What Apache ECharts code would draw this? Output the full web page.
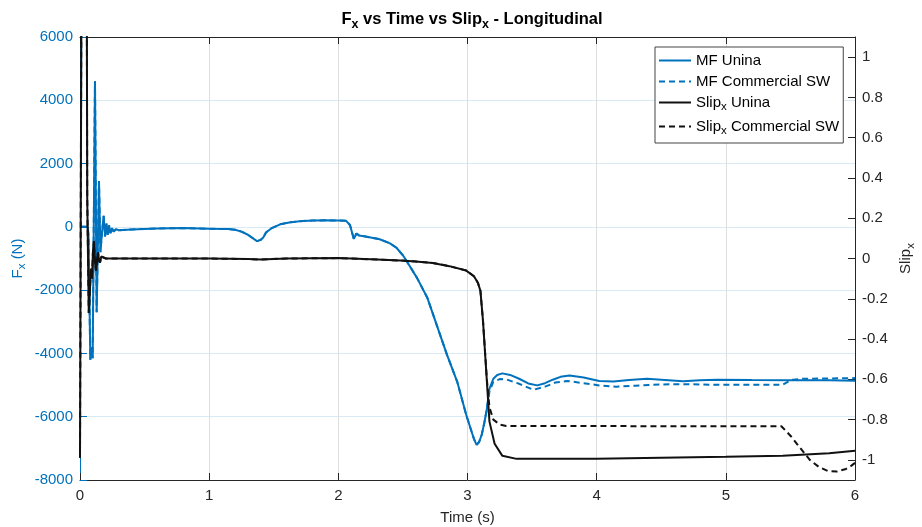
<!DOCTYPE html>
<html>
<head>
<meta charset="utf-8">
<script src="https://cdn.jsdelivr.net/npm/echarts@6/dist/echarts.min.js"></script>
<style>html,body{margin:0;padding:0;background:#fff}#c{width:922px;height:527px}</style>
</head>
<body>
<div id="c"></div>
<script>
// ---- Data ----
const xTicks = [0, 1, 2, 3, 4, 5, 6];
const slipTicks = [-1, -0.8, -0.6, -0.4, -0.2, 0, 0.2, 0.4, 0.6, 0.8, 1];

// Fx (N): part shared by both models (t <= 3.15 s)
const fxCommonTime = [0, 0.06, 0.066, 0.08, 0.088, 0.098, 0.116, 0.129, 0.147, 0.158, 0.17, 0.183, 0.194, 0.205, 0.215, 0.225, 0.235, 0.248, 0.26, 0.28, 0.3, 0.4, 0.6, 0.8, 1.0, 1.15, 1.2, 1.25, 1.3, 1.37, 1.4, 1.42, 1.44, 1.48, 1.55, 1.62, 1.7, 1.8, 1.9, 2.0, 2.06, 2.09, 2.12, 2.14, 2.16, 2.2, 2.32, 2.4, 2.45, 2.5, 2.55, 2.61, 2.69, 2.76, 2.84, 2.92, 2.99, 3.03, 3.05, 3.07, 3.09, 3.11, 3.13, 3.15];
const fxCommonVals = [0, 0, -300, -4200, -3800, -4150, 4600, -2700, 1450, -800, -200, 350, -300, 100, -250, 50, -200, -40, -150, -70, -110, -80, -50, -40, -60, -70, -90, -150, -250, -450, -410, -330, -180, -50, 80, 140, 180, 200, 205, 200, 190, 60, -380, -210, -270, -300, -390, -520, -660, -900, -1220, -1620, -2250, -3080, -4030, -4890, -5940, -6450, -6700, -6890, -6800, -6570, -6200, -5750];
// Fx MF Unina tail
const fxUninaTime = [3.17, 3.2, 3.23, 3.27, 3.33, 3.4, 3.47, 3.54, 3.6, 3.66, 3.72, 3.79, 3.9, 4.02, 4.13, 4.25, 4.39, 4.5, 4.67, 4.8, 4.93, 5.2, 5.5, 5.8, 6.0];
const fxUninaVals = [-5110, -4800, -4680, -4630, -4680, -4800, -4950, -5010, -4940, -4830, -4740, -4700, -4760, -4870, -4890, -4840, -4800, -4830, -4880, -4850, -4830, -4840, -4850, -4850, -4860];
// Fx MF Commercial SW tail
const fxSwTime = [3.17, 3.2, 3.25, 3.3, 3.4, 3.51, 3.6, 3.68, 3.77, 3.9, 4.02, 4.15, 4.3, 4.5, 4.67, 4.9, 5.2, 5.44, 5.48, 5.52, 5.6, 5.8, 6.0];
const fxSwVals = [-5200, -4900, -4810, -4820, -4960, -5150, -5050, -4920, -4870, -4940, -5010, -5050, -5020, -4980, -4970, -4990, -4990, -4990, -4900, -4830, -4800, -4790, -4780];

// Slip_x: part shared by both (t <= 3.12 s)
const slipCommonTime = [0, 0.008, 0.012, 0.052, 0.056, 0.068, 0.085, 0.093, 0.1, 0.108, 0.116, 0.124, 0.132, 0.14, 0.148, 0.155, 0.165, 0.178, 0.2, 0.5, 1.0, 1.3, 1.4, 1.6, 2.0, 2.1, 2.3, 2.48, 2.6, 2.73, 2.86, 2.99, 3.05, 3.08, 3.1, 3.12];
const slipCommonVals = [-0.99, -0.99, 1.5, 1.5, 0.3, -0.27, -0.05, -0.1, 0.03, 0.086, -0.02, -0.06, 0.0, 0.03, -0.01, -0.02, 0.01, 0.005, 0.0, 0.0, 0.0, -0.003, -0.005, 0.0, 0.002, 0.0, -0.005, -0.01, -0.015, -0.022, -0.038, -0.06, -0.088, -0.12, -0.16, -0.31];
// Slip_x Unina tail
const slipUninaTime = [3.15, 3.17, 3.21, 3.27, 3.38, 4.0, 4.5, 5.0, 5.44, 5.8, 6.0];
const slipUninaVals = [-0.61, -0.81, -0.92, -0.98, -0.995, -0.995, -0.99, -0.985, -0.98, -0.967, -0.955];
// Slip_x Commercial SW tail
const slipSwTime = [3.15, 3.17, 3.2, 3.25, 3.3, 5.43, 5.5, 5.55, 5.6, 5.65, 5.72, 5.79, 5.86, 5.93, 5.97, 6.0];
const slipSwVals = [-0.6, -0.74, -0.8, -0.825, -0.832, -0.833, -0.88, -0.92, -0.96, -1.0, -1.035, -1.055, -1.058, -1.045, -1.03, -1.015];

// ---- helpers ----
function pairs(ts, vs) { return ts.map((t, i) => [t, vs[i]]); }
const fxUnina = pairs(fxCommonTime.concat(fxUninaTime), fxCommonVals.concat(fxUninaVals));
const fxSw = pairs(fxCommonTime.concat(fxSwTime), fxCommonVals.concat(fxSwVals));
const slipUnina = pairs(slipCommonTime.concat(slipUninaTime), slipCommonVals.concat(slipUninaVals));
const slipSw = pairs(slipCommonTime.concat(slipSwTime), slipCommonVals.concat(slipSwVals));

const FONT = 'Liberation Sans';
const BLUE = '#0072BD';
const DARK = '#262626';
const FS = 15;
const sub = { fontSize: 11.5, fontFamily: FONT, padding: [9, 0, 0, 0] };

const legendLabels = {
  'MF Unina': 'MF Unina',
  'MF Commercial SW': 'MF Commercial SW',
  'Slipx Unina': 'Slip{s|x} Unina',
  'Slipx Commercial SW': 'Slip{s|x} Commercial SW'
};

const chart = echarts.init(document.getElementById('c'), null, { renderer: 'canvas' });
chart.setOption({
  animation: false,
  backgroundColor: '#fff',
  textStyle: { fontFamily: FONT },
  title: {
    text: 'F{s|x} vs Time vs Slip{s|x} - Longitudinal',
    left: 467, top: 3, textAlign: 'center',
    textStyle: {
      fontSize: 16.5, fontWeight: 'bold', color: '#000', fontFamily: FONT,
      rich: { s: { fontSize: 12.5, fontWeight: 'bold', fontFamily: FONT, color: '#000', padding: [10, 0, 0, 0] } }
    }
  },
  grid: { left: 80, right: 67, top: 37, bottom: 47, containLabel: false, outerBoundsMode: 'none' },
  legend: {
    orient: 'vertical', left: 655, top: 47,
    padding: [6, 4, 6, 3], itemGap: 6,
    itemWidth: 32, itemHeight: 14,
    backgroundColor: '#fff', borderColor: '#444', borderWidth: 1,
    itemStyle: { opacity: 0 },
    data: ['MF Unina', 'MF Commercial SW', 'Slipx Unina', 'Slipx Commercial SW'],
    formatter: n => legendLabels[n],
    textStyle: { fontSize: FS, color: '#000', fontFamily: FONT, rich: { s: Object.assign({ color: '#000' }, sub) } }
  },
  xAxis: [{
    type: 'value', min: xTicks[0], max: xTicks[xTicks.length - 1], interval: 1,
    position: 'bottom',
    name: 'Time (s)', nameLocation: 'middle', nameGap: 30,
    nameTextStyle: { fontSize: FS, color: DARK, fontFamily: FONT },
    axisLine: { show: true, onZero: false, lineStyle: { color: DARK, width: 1 } },
    axisTick: { show: true, inside: true, length: 7, lineStyle: { color: DARK } },
    axisLabel: { fontSize: FS, color: DARK, margin: 8, fontFamily: FONT },
    splitLine: { show: true, lineStyle: { color: '#dedede', width: 1 } }
  }, {
    type: 'value', min: xTicks[0], max: xTicks[xTicks.length - 1], interval: 1,
    position: 'top',
    axisLine: { show: true, onZero: false, lineStyle: { color: DARK, width: 1 } },
    axisTick: { show: true, inside: true, length: 7, lineStyle: { color: DARK } },
    axisLabel: { show: false },
    splitLine: { show: false }
  }],
  yAxis: [{
    type: 'value', min: -8000, max: 6000, interval: 2000, position: 'left',
    name: 'F{s|x} (N)', nameLocation: 'middle', nameGap: 52, nameRotate: 90, nameMoveOverlap: false,
    nameTextStyle: { fontSize: FS, color: BLUE, fontFamily: FONT, rich: { s: Object.assign({ color: BLUE }, sub) } },
    axisLine: { show: true, onZero: false, lineStyle: { color: BLUE, width: 1 } },
    axisTick: { show: true, inside: true, length: 7, lineStyle: { color: BLUE } },
    axisLabel: { fontSize: FS, color: BLUE, margin: 7, fontFamily: FONT, formatter: v => String(v) },
    splitLine: { show: true, lineStyle: { color: '#d9eaf5', width: 1 } }
  }, {
    type: 'value', min: -1.1, max: 1.1, position: 'right',
    name: 'Slip{s|x}', nameLocation: 'middle', nameGap: 40, nameRotate: 90,
    nameTextStyle: { fontSize: FS, color: DARK, fontFamily: FONT, rich: { s: Object.assign({ color: DARK }, sub) } },
    axisLine: { show: true, onZero: false, lineStyle: { color: DARK, width: 1 } },
    axisTick: { show: true, inside: true, length: 7, lineStyle: { color: DARK }, customValues: slipTicks },
    axisLabel: { fontSize: FS, color: DARK, margin: 7, fontFamily: FONT, customValues: slipTicks,
      formatter: v => String(Math.round(v * 10) / 10) },
    splitLine: { show: false }
  }],
  series: [
    { name: 'MF Unina', type: 'line', yAxisIndex: 0, data: fxUnina, showSymbol: false, symbol: 'none',
      lineStyle: { color: BLUE, width: 2 }, itemStyle: { color: BLUE }, z: 2 },
    { name: 'MF Commercial SW', type: 'line', yAxisIndex: 0, data: fxSw, showSymbol: false, symbol: 'none',
      lineStyle: { color: BLUE, width: 2, type: [6, 4] }, itemStyle: { color: BLUE }, z: 2 },
    { name: 'Slipx Unina', type: 'line', yAxisIndex: 1, data: slipUnina, showSymbol: false, symbol: 'none',
      lineStyle: { color: '#111', width: 2 }, itemStyle: { color: '#111' }, z: 3 },
    { name: 'Slipx Commercial SW', type: 'line', yAxisIndex: 1, data: slipSw, showSymbol: false, symbol: 'none',
      lineStyle: { color: '#111', width: 2, type: [6, 4] }, itemStyle: { color: '#111' }, z: 3 }
  ]
});
</script>
</body>
</html>
